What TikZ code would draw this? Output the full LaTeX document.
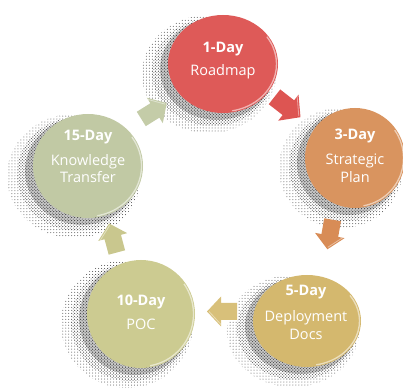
\documentclass[tikz,border=0pt]{standalone}
\usepackage{fontspec}
\setmainfont{Open Sans}
\usetikzlibrary{shapes.geometric,patterns,calc}
\definecolor{cRM}{RGB}{222,90,88}
\definecolor{cSP}{RGB}{217,148,95}
\definecolor{cDD}{RGB}{212,184,110}
\definecolor{cPO}{RGB}{204,203,145}
\definecolor{cKT}{RGB}{193,201,164}
\definecolor{aRM}{RGB}{221,85,82}
\definecolor{aSP}{RGB}{216,140,86}
\definecolor{aDD}{RGB}{216,192,122}
\definecolor{aPO}{RGB}{201,199,142}
\definecolor{aKT}{RGB}{196,204,168}
\begin{document}
\begin{tikzpicture}[x=1bp,y=1bp,
  disc/.style={ellipse, inner sep=0pt, draw=none},
  hd/.style={text=white, font=\bfseries\fontsize{14.5bp}{17bp}\selectfont, inner sep=0pt, anchor=mid},
  ln/.style={text=white, font=\fontsize{14.5bp}{17bp}\selectfont, inner sep=0pt, anchor=mid},
  blockarrow/.pic={\fill[#1] (15,0) -- (1,15) -- (1,8.5) -- (-15,8.5) -- (-15,-8.5) -- (1,-8.5) -- (1,-15) -- cycle;
    \draw[white, opacity=.45, line width=.8bp] (1,13) -- (13,0);}
]
\useasboundingbox (0,0) rectangle (403,391);
% centres
\coordinate (c-rm) at (223,327);
\coordinate (c-sp) at (355,233);
\coordinate (c-dd) at (307,70);
\coordinate (c-po) at (141,77);
\coordinate (c-kt) at (88,225);
% halftone shadows
\foreach \c/\rx/\ry in {rm/55/49, sp/50/50, dd/54/46, po/54/54, kt/55/52}{
  \fill[pattern=dots, pattern color=black!70] ([shift={(-14,-10)}]c-\c) ellipse [x radius=\rx bp+12bp, y radius=\ry bp+10bp];
  \fill[pattern=crosshatch dots, pattern color=black!70] ([shift={(-10,-8)}]c-\c) ellipse [x radius=\rx bp+6bp, y radius=\ry bp+5bp];
  \fill[black, opacity=.22] ([shift={(-6,-5)}]c-\c) ellipse [x radius=\rx bp+2bp, y radius=\ry bp+2bp];
}
% discs
\node[disc, fill=cRM, minimum width=110bp, minimum height=98bp] (rm) at (c-rm) {};
\node[disc, fill=cSP, minimum width=100bp, minimum height=100bp] (sp) at (c-sp) {};
\node[disc, fill=cDD, minimum width=108bp, minimum height=92bp] (dd) at (c-dd) {};
\node[disc, fill=cPO, minimum width=108bp, minimum height=108bp] (po) at (c-po) {};
\node[disc, fill=cKT, minimum width=110bp, minimum height=104bp] (kt) at (c-kt) {};
% glossy rims
\foreach \c/\rx/\ry in {rm/55/49, sp/50/50, dd/54/46, po/54/54, kt/55/52}{
  \draw[white, opacity=.55, line width=1.3bp] ([shift={(-80:\rx bp-1.5bp and \ry bp-1.5bp)}]c-\c)
    arc[start angle=-80, end angle=35, x radius=\rx bp-1.5bp, y radius=\ry bp-1.5bp];
}
% block arrows
\pic[rotate=-38, scale=1.1] (a1) at ([shift={(-1.5,4)}]$(rm.center)!.5!(sp.center)$) {blockarrow=aRM};
\pic[rotate=-100] (a2) at ([shift={(-1,5)}]$(sp.center)!.5!(dd.center)$) {blockarrow=aSP};
\pic[rotate=180] (a3) at ([shift={(-2,6)}]$(dd.center)!.5!(po.center)$) {blockarrow=aDD};
\pic[rotate=105] (a4) at ([shift={(-1.5,2)}]$(po.center)!.5!(kt.center)$) {blockarrow=aPO};
\pic[rotate=32] (a5) at ([shift={(-1.5,4)}]$(kt.center)!.5!(rm.center)$) {blockarrow=aKT};
% labels
\node[hd] (rm1) at ([yshift=14]rm.center) {1-Day};
\node[ln] (rm2) at ([yshift=-9]rm.center) {Roadmap};
\node[hd] (sp1) at ([yshift=21]sp.center) {3-Day};
\node[ln] (sp2) at ([yshift=-4]sp.center) {Strategic};
\node[ln] (sp3) at ([yshift=-22]sp.center) {Plan};
\node[hd] (kt1) at ([yshift=28]kt.center) {15-Day};
\node[ln] (kt2) at ([yshift=3]kt.center) {Knowledge};
\node[ln] (kt3) at ([yshift=-14]kt.center) {Transfer};
\node[hd] (po1) at ([yshift=11]po.center) {10-Day};
\node[ln] (po2) at ([yshift=-13]po.center) {POC};
\node[hd] (dd1) at ([xshift=-1,yshift=28]dd.center) {5-Day};
\node[ln] (dd2) at ([xshift=-1,yshift=2]dd.center) {Deployment};
\node[ln] (dd3) at ([xshift=-1,yshift=-16]dd.center) {Docs};
\end{tikzpicture}
\end{document}
